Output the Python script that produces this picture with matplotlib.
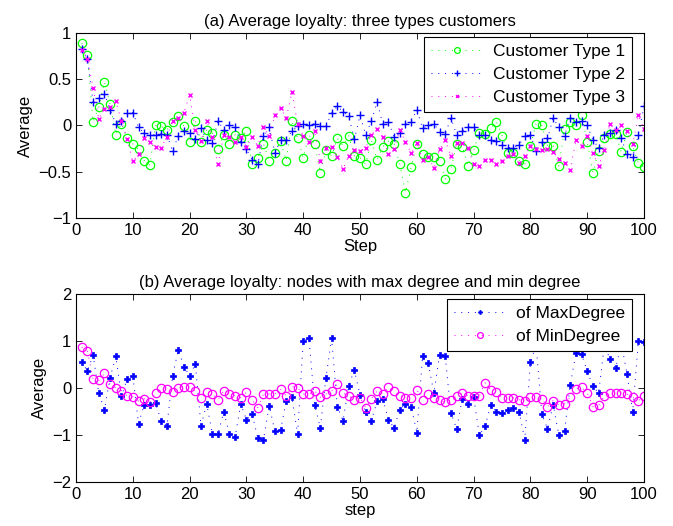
import numpy as np
import matplotlib
matplotlib.use('Agg')
import matplotlib.pyplot as plt

plt.rcParams['font.family'] = ['Liberation Sans', 'DejaVu Sans']
plt.rcParams['font.size'] = 12

steps = np.arange(1, 101)

# (a) 三種顧客的平均忠誠度
type1 = [0.89, 0.76, 0.04, 0.20, 0.47, 0.23, -0.10, 0.02, -0.14, -0.20,
         -0.26, -0.38, -0.43, 0.00, -0.01, -0.05, 0.04, 0.10, -0.01, -0.18,
         0.05, -0.18, -0.05, -0.08, -0.26, -0.10, -0.20, -0.10, -0.14, -0.06,
         -0.42, -0.35, -0.20, -0.38, -0.30, -0.17, -0.38, 0.05, -0.14, -0.35,
         -0.10, -0.20, -0.51, -0.27, -0.33, -0.14, -0.22, -0.11, -0.33, -0.35,
         -0.42, -0.16, -0.37, -0.23, -0.17, -0.20, -0.42, -0.73, -0.45, -0.20,
         -0.31, -0.34, -0.34, -0.38, -0.58, -0.47, -0.20, -0.23, -0.44, -0.27,
         -0.08, -0.09, -0.03, 0.04, -0.11, -0.30, -0.30, -0.38, -0.42, -0.22,
         0.02, 0.00, -0.22, -0.22, -0.44, -0.04, 0.04, 0.00, 0.11, -0.18,
         -0.51, -0.28, -0.14, -0.09, -0.09, -0.29, -0.07, -0.22, -0.41, -0.45]
type2 = [0.83, 0.72, 0.25, 0.30, 0.34, 0.17, 0.02, 0.05, 0.14, 0.14,
         -0.02, -0.08, -0.10, -0.10, -0.09, -0.10, -0.28, -0.11, -0.06, -0.08,
         -0.15, -0.03, -0.16, -0.19, 0.05, -0.05, 0.00, -0.02, -0.18, -0.26,
         -0.37, -0.42, -0.11, -0.02, -0.30, -0.16, -0.16, -0.06, -0.01, 0.02,
         0.01, 0.02, -0.01, -0.01, 0.14, 0.21, 0.15, 0.10, -0.15, 0.11,
         -0.10, 0.05, 0.25, 0.02, 0.04, -0.13, -0.08, 0.02, 0.04, 0.17,
         -0.03, 0.00, 0.02, -0.07, -0.09, 0.08, -0.10, -0.06, -0.02, -0.02,
         -0.10, -0.10, -0.16, -0.17, -0.21, -0.24, -0.24, -0.21, -0.11, -0.10,
         -0.28, -0.18, -0.14, 0.08, -0.02, -0.11, 0.08, 0.04, 0.05, 0.00,
         -0.16, -0.24, -0.10, -0.08, -0.05, -0.14, -0.31, -0.34, -0.10, 0.21]
type3 = [0.82, 0.72, 0.41, 0.07, 0.18, 0.20, 0.26, 0.05, -0.15, -0.39,
         -0.31, -0.14, -0.18, -0.23, -0.24, -0.12, 0.05, 0.08, 0.14, 0.33,
         -0.05, -0.17, 0.05, -0.13, -0.42, -0.10, -0.13, -0.18, -0.12, -0.23,
         -0.13, -0.22, -0.02, -0.11, 0.11, 0.19, 0.08, 0.36, 0.02, -0.11,
         -0.18, -0.06, -0.38, -0.24, -0.23, -0.34, -0.47, -0.33, -0.27, -0.28,
         -0.24, -0.10, -0.04, -0.13, -0.31, -0.25, -0.05, -0.18, -0.30, -0.19,
         -0.37, -0.34, -0.46, -0.26, -0.16, -0.33, -0.19, -0.19, -0.24, -0.42,
         -0.44, -0.37, -0.37, -0.42, -0.38, -0.33, -0.31, -0.41, -0.33, -0.22,
         -0.25, -0.27, -0.25, -0.29, -0.36, -0.41, -0.48, -0.16, -0.22, -0.11,
         -0.30, -0.44, -0.27, 0.02, -0.05, 0.00, -0.06, -0.20, 0.11, -0.04]

# (b) 最大度與最小度節點的平均忠誠度
max_degree = [0.56, 0.36, 0.70, -0.11, -0.46, 0.22, 0.67, -0.18, 0.19, 0.26,
              -0.76, -0.36, -0.36, -0.33, -0.70, -0.81, 0.26, 0.81, 0.45, 0.26,
              0.51, -0.81, -0.34, -0.98, -0.98, -0.51, -0.98, -1.05, -0.34, -0.68,
              -0.56, -1.07, -1.10, -0.38, -0.92, -0.90, -0.28, -0.19, -0.98, 1.00,
              1.06, -0.36, -0.85, 0.22, 1.06, -0.40, -0.70, 0.05, 0.38, -0.15,
              -0.52, -0.70, -0.28, -0.23, -0.68, -0.85, -0.46, -0.34, -0.40, -0.95,
              0.67, 0.53, -0.11, 0.70, 0.67, -0.53, -0.87, -0.23, -0.34, -0.19,
              -1.01, -0.82, -0.37, -0.51, -0.53, -0.46, -0.43, -0.51, -1.10, 0.56,
              0.90, -0.56, -0.87, -0.36, -1.01, -0.92, 0.06, 0.74, 0.72, 0.35,
              0.04, -0.11, 0.90, 0.62, 0.42, 0.95, 0.30, -0.51, 1.00, 0.98]
min_degree = [0.87, 0.78, 0.19, 0.16, 0.31, 0.08, 0.00, -0.06, -0.17, -0.19,
              -0.28, -0.23, -0.30, -0.11, 0.00, -0.02, -0.09, 0.00, 0.03, 0.03,
              -0.06, -0.21, -0.09, -0.13, -0.25, -0.06, -0.13, -0.17, -0.21, -0.09,
              -0.25, -0.42, -0.13, -0.13, -0.13, -0.03, -0.17, 0.03, 0.00, -0.13,
              -0.13, -0.06, -0.20, -0.13, -0.06, 0.08, -0.11, -0.17, -0.25, -0.21,
              -0.42, -0.23, -0.06, -0.13, 0.01, -0.06, -0.17, -0.21, -0.21, -0.04,
              -0.25, -0.13, -0.21, -0.25, -0.31, -0.25, -0.17, -0.11, -0.17, -0.17,
              -0.17, 0.11, -0.04, -0.09, -0.21, -0.21, -0.21, -0.25, -0.27, -0.20,
              -0.20, -0.23, -0.40, -0.27, -0.37, -0.34, -0.20, -0.02, 0.01, -0.11,
              -0.40, -0.37, -0.17, -0.11, -0.11, -0.11, -0.13, -0.20, -0.27, -0.17]

dot = (0, (1, 6))  # MATLAB 風格的稀疏點線

fig = plt.figure(figsize=(6.73, 5.26), dpi=100)
ax1 = fig.add_axes([0.113, 0.586, 0.844, 0.351])
ax2 = fig.add_axes([0.113, 0.084, 0.844, 0.357])

ax1.plot(steps, type1, ls=dot, color=(0, 1, 0), lw=0.7, marker='o', ms=6,
         mfc='none', mew=0.9, label='Customer Type 1')
ax1.plot(steps, type2, ls=dot, color=(0, 0, 1), lw=0.7, marker='+', ms=6,
         mew=1.0, label='Customer Type 2')
ax1.plot(steps, type3, ls=dot, color=(1, 0, 1), lw=0.7, marker='x', ms=3,
         mew=1.0, label='Customer Type 3')
ax1.set_xlim(0, 100)
ax1.set_ylim(-1, 1)
ax1.set_yticks([-1, -0.5, 0, 0.5, 1])
ax1.set_yticklabels(['\u22121', '\u22120.5', '0', '0.5', '1'])
ax1.set_title('(a) Average loyalty: three types customers', fontsize=12, pad=5)
ax1.set_xlabel('Step', labelpad=1)
ax1.set_ylabel('Average')

ax2.plot(steps, max_degree, ls=dot, color=(0, 0, 1), lw=0.7, marker='P', ms=4,
         mew=0.5, label='of MaxDegree')
ax2.plot(steps, min_degree, ls=dot, color=(1, 0, 1), lw=0.7, marker='o', ms=6,
         mfc='none', mew=0.9, label='of MinDegree')
ax2.set_xlim(0, 100)
ax2.set_ylim(-2, 2)
ax2.set_yticks([-2, -1, 0, 1, 2])
ax2.set_yticklabels(['\u22122', '\u22121', '0', '1', '2'])
ax2.set_title('(b) Average loyalty: nodes with max degree and min degree', fontsize=12, pad=5)
ax2.set_xlabel('step', labelpad=1)
ax2.set_ylabel('Average')

anchors = [(0.979, 0.978), (0.979, 0.973)]
for ax, anchor in zip((ax1, ax2), anchors):
    ax.set_xticks(range(0, 101, 10))
    ax.tick_params(direction='in', top=True, right=True, length=4, width=0.6)
    for s in ax.spines.values():
        s.set_linewidth(0.8)
    leg = ax.legend(loc='upper right', bbox_to_anchor=anchor, fancybox=False,
                    edgecolor='black', framealpha=1, borderaxespad=0,
                    handlelength=3.0, handletextpad=0.6, borderpad=0.4,
                    labelspacing=0.45, markerscale=0.7, fontsize=12.5)
    leg.get_frame().set_linewidth(0.8)

fig.savefig('out.png', dpi=100)
